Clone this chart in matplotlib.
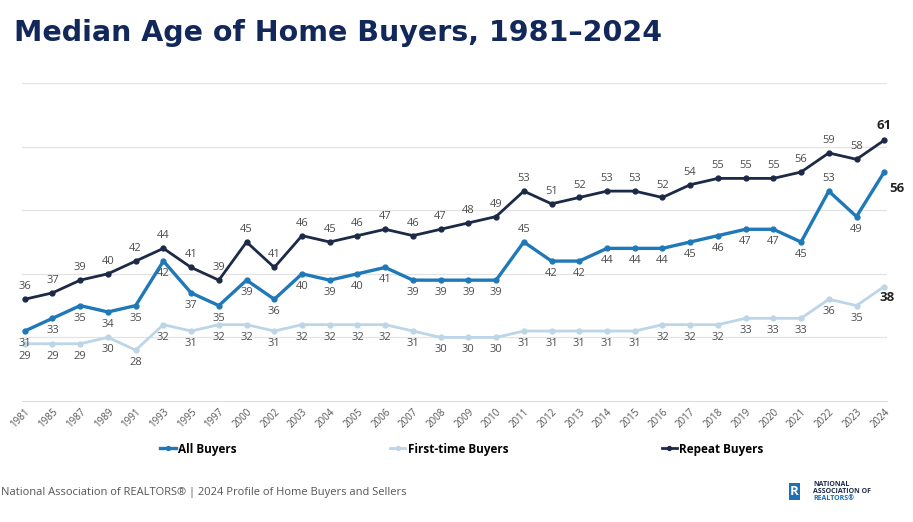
import matplotlib.pyplot as plt
from matplotlib.patches import Rectangle

# data
years = ['1981', '1985', '1987', '1989', '1991', '1993', '1995', '1997', '2000', '2002',
         '2003', '2004', '2005', '2006', '2007', '2008', '2009', '2010', '2011', '2012',
         '2013', '2014', '2015', '2016', '2017', '2018', '2019', '2020', '2021', '2022',
         '2023', '2024']
all_buyers = [31, 33, 35, 34, 35, 42, 37, 35, 39, 36, 40, 39, 40, 41, 39, 39,
              39, 39, 45, 42, 42, 44, 44, 44, 45, 46, 47, 47, 45, 53, 49, 56]
first_time = [29, 29, 29, 30, 28, 32, 31, 32, 32, 31, 32, 32, 32, 32, 31, 30,
              30, 30, 31, 31, 31, 31, 31, 32, 32, 32, 33, 33, 33, 36, 35, 38]
repeat = [36, 37, 39, 40, 42, 44, 41, 39, 45, 41, 46, 45, 46, 47, 46, 47,
          48, 49, 53, 51, 52, 53, 53, 52, 54, 55, 55, 55, 56, 59, 58, 61]

# All Buyers labels that sit above the point instead of below
all_above = {'2011', '2022'}

c_all = '#1f78b8'
c_first = '#bcd5e7'
c_rep = '#1d2a47'
c_lbl = '#4d4d4d'

plt.rcParams['font.family'] = ['Open Sans', 'DejaVu Sans']

fig = plt.figure(figsize=(9.13, 5.22), dpi=100)
ax = fig.add_axes([22 / 913, 1 - 401 / 522, 865 / 913, 318 / 522])

x = list(range(len(years)))
ax.plot(x, first_time, color=c_first, lw=2.0, marker='o', ms=3.5, label='First-time Buyers', zorder=2)
ax.plot(x, all_buyers, color=c_all, lw=2.4, marker='o', ms=3.5, label='All Buyers', zorder=3)
ax.plot(x, repeat, color=c_rep, lw=2.0, marker='o', ms=3.5, label='Repeat Buyers', zorder=4)

last = len(years) - 1
for i, yr in enumerate(years):
    if i == last:
        continue
    ax.annotate(str(repeat[i]), (i, repeat[i]), xytext=(0, 5), textcoords='offset points',
                ha='center', va='bottom', fontsize=8, color=c_lbl)
    off = (0, 5) if yr in all_above else (0, -5)
    va = 'bottom' if yr in all_above else 'top'
    ax.annotate(str(all_buyers[i]), (i, all_buyers[i]), xytext=off, textcoords='offset points',
                ha='center', va=va, fontsize=8, color=c_lbl)
    ax.annotate(str(first_time[i]), (i, first_time[i]), xytext=(0, -5), textcoords='offset points',
                ha='center', va='top', fontsize=8, color=c_lbl)

# bold end labels
ax.annotate(str(repeat[last]), (last, repeat[last]), xytext=(0, 6), textcoords='offset points',
            ha='center', va='bottom', fontsize=9.5, fontweight='bold', color='#222222')
ax.annotate(str(all_buyers[last]), (last, all_buyers[last]), xytext=(4, -7), textcoords='offset points',
            ha='left', va='top', fontsize=9.5, fontweight='bold', color='#222222')
ax.annotate(str(first_time[last]), (last, first_time[last]), xytext=(2, -3), textcoords='offset points',
            ha='center', va='top', fontsize=9.5, fontweight='bold', color='#222222')

ax.set_ylim(20, 70)
ax.set_xlim(-0.1, last + 0.1)
ax.set_yticks([30, 40, 50, 60, 70])
ax.yaxis.grid(True, color='#e3e3e3', lw=0.9)
ax.set_axisbelow(True)
ax.tick_params(axis='y', left=False, labelleft=False)
ax.tick_params(axis='x', length=0, pad=4, labelsize=7, labelcolor='#555555')
ax.set_xticks(x)
ax.set_xticklabels(years, rotation=45, ha='right', rotation_mode='anchor')
for s in ['top', 'right', 'left']:
    ax.spines[s].set_visible(False)
ax.spines['bottom'].set_color('#dddddd')

handles, labels = ax.get_legend_handles_labels()
order = [1, 0, 2]
fig.legend([handles[k] for k in order], [labels[k] for k in order],
           loc='center', bbox_to_anchor=(462 / 913, 1 - 449 / 522), ncol=3, frameon=False,
           columnspacing=13, handlelength=1.3, handletextpad=0.2, markerscale=0.8,
           prop={'weight': 'bold', 'size': 8.5})

fig.text(14 / 913, 1 - 33 / 522, 'Median Age of Home Buyers, 1981\u20132024',
         fontsize=20.5, fontweight='bold', color='#12275a', va='center', ha='left',
         family='DejaVu Sans')

fig.text(1 / 913, 1 - 492 / 522, 'National Association of REALTORS\u00ae | 2024 Profile of Home Buyers and Sellers',
         fontsize=8, color='#555555', va='center', ha='left')

# simple logo mark
fig.patches.append(Rectangle((789 / 913, 1 - 500 / 522), 11 / 913, 17 / 522,
                             transform=fig.transFigure, facecolor='#1d6fb8', edgecolor='none'))
fig.text(794.5 / 913, 1 - 491.5 / 522, 'R', color='white', fontsize=9.5, fontweight='bold',
         ha='center', va='center')
fig.text(813 / 913, 1 - 488 / 522, 'NATIONAL\nASSOCIATION OF', fontsize=5, fontweight='bold',
         color='#1d2a47', va='center', ha='left', linespacing=1.0)
fig.text(813 / 913, 1 - 498 / 522, 'REALTORS\u00ae', fontsize=5, fontweight='bold',
         color='#1d6fb8', va='center', ha='left')

fig.savefig('out.png', dpi=100)
